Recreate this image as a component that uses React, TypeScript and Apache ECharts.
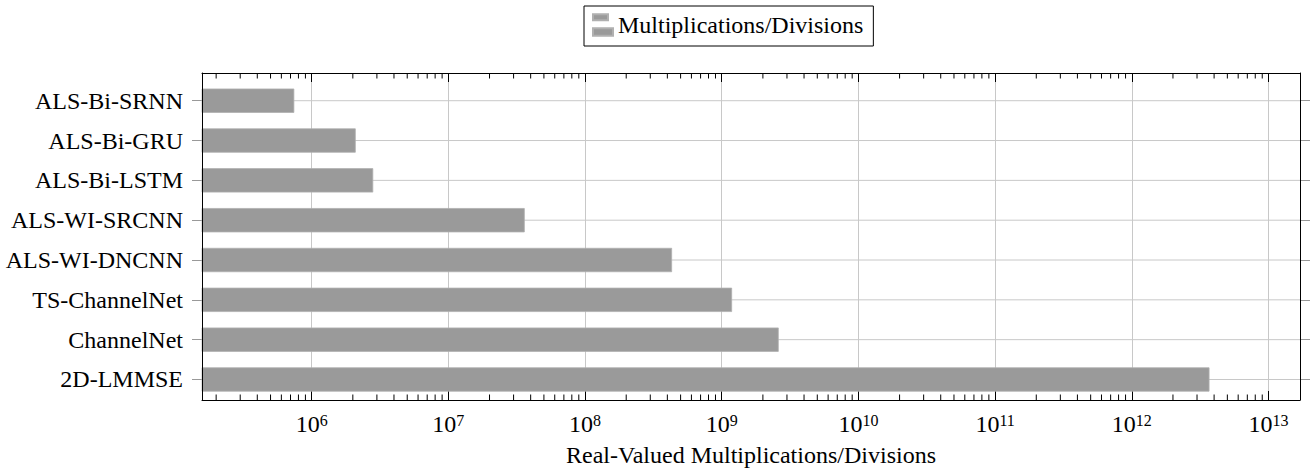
import React, { useEffect, useRef } from 'react';
import * as echarts from 'echarts';

const categories = [
  'ALS-Bi-SRNN',
  'ALS-Bi-GRU',
  'ALS-Bi-LSTM',
  'ALS-WI-SRCNN',
  'ALS-WI-DNCNN',
  'TS-ChannelNet',
  'ChannelNet',
  '2D-LMMSE',
];
const values = [7.46e5, 2.1e6, 2.82e6, 3.62e7, 4.33e8, 1.19e9, 2.61e9, 3.7e12];
const seriesName = 'Multiplications/Divisions';
const axisTitle = 'Real-Valued Multiplications/Divisions';
const axisMin = 1.576e5;
const axisMax = 1.7e13;
const minorMultipliers = [2, 3, 4, 5, 6, 7, 8, 9];
const decades = [5, 6, 7, 8, 9, 10, 11, 12, 13];

const minorTickValues: number[] = [];
decades.forEach((k) =>
  minorMultipliers.forEach((m) => {
    const v = m * Math.pow(10, k);
    if (v > axisMin && v < axisMax) minorTickValues.push(v);
  })
);

const FONT = 'Liberation Serif';
const FS = 24;

export default function App() {
  const ref = useRef<HTMLDivElement>(null);
  useEffect(() => {
    if (!ref.current) return;
    const chart = echarts.init(ref.current, undefined, { renderer: 'svg' });
    const frameAxisLine = { show: true, onZero: false, lineStyle: { color: '#000', width: 1 } };
    const option: any = {
      animation: false,
      textStyle: { fontFamily: FONT },
      legend: {
        left: 584,
        top: 6,
        padding: [7, 10, 9, 8],
        borderColor: '#000',
        borderWidth: 1,
        borderRadius: 0,
        itemWidth: 20,
        itemHeight: 21.5,
        icon: 'path://M0,0h15v6h-15z M0,14h20v7.5h-20z',
        textStyle: { fontSize: FS, fontFamily: FONT, color: '#000' },
        data: [{ name: seriesName, itemStyle: { color: '#9a9a9a' } }],
      },
      grid: [
        { left: 202, right: 11, top: 73, height: 333.5 },
        { left: 202, right: 11, top: 80.8, height: 318.6 },
      ],
      xAxis: [
        {
          gridIndex: 0,
          type: 'log',
          logBase: 10,
          min: axisMin,
          max: axisMax,
          splitNumber: 8,
          position: 'bottom',
          axisLine: frameAxisLine,
          axisTick: { show: true, inside: true, length: 9, lineStyle: { color: '#000' } },
          axisLabel: {
            showMinLabel: false,
            showMaxLabel: false,
            margin: 12,
            formatter: (v: number) => {
              const n = Math.round(Math.log10(v));
              return `{b|10}{s|${n}}`;
            },
            rich: {
              b: { fontSize: FS, fontFamily: FONT, color: '#000' },
              s: { fontSize: 16, fontFamily: FONT, color: '#000', verticalAlign: 'top' },
            },
          },
          splitLine: { show: true, lineStyle: { color: '#c8c8c8', width: 1 } },
          name: axisTitle,
          nameLocation: 'middle',
          nameGap: 43,
          nameTextStyle: { fontSize: FS, fontFamily: FONT, color: '#000' },
        },
        {
          gridIndex: 0,
          type: 'log',
          logBase: 10,
          min: axisMin,
          max: axisMax,
          splitNumber: 8,
          position: 'top',
          axisLine: frameAxisLine,
          axisTick: { show: true, inside: true, length: 9, lineStyle: { color: '#000' } },
          axisLabel: { show: false },
          splitLine: { show: false },
        },
        {
          gridIndex: 1,
          type: 'log',
          logBase: 10,
          min: axisMin,
          max: axisMax,
          show: false,
        },
      ],
      yAxis: [
        {
          gridIndex: 0,
          type: 'value',
          min: 0,
          max: 1,
          position: 'left',
          z: 5,
          axisLine: frameAxisLine,
          axisTick: { show: false },
          axisLabel: { show: false },
          splitLine: { show: false },
        },
        {
          gridIndex: 0,
          type: 'value',
          min: 0,
          max: 1,
          position: 'right',
          z: 5,
          axisLine: frameAxisLine,
          axisTick: { show: false },
          axisLabel: { show: false },
          splitLine: { show: false },
        },
        {
          gridIndex: 1,
          type: 'category',
          data: categories,
          inverse: true,
          boundaryGap: true,
          position: 'left',
          axisLine: { show: false, onZero: false },
          axisTick: { show: true, alignWithLabel: true, inside: false, length: 10, lineStyle: { color: '#999' } },
          axisLabel: { margin: 19, fontSize: FS, fontFamily: FONT, color: '#000' },
          splitLine: { show: false },
        },
        {
          gridIndex: 1,
          type: 'category',
          data: categories,
          inverse: true,
          boundaryGap: true,
          position: 'right',
          axisLine: { show: false, onZero: false },
          axisTick: { show: true, alignWithLabel: true, inside: false, length: 10, lineStyle: { color: '#999' } },
          axisLabel: { show: false },
          splitLine: { show: false },
        },
      ],
      series: [
        {
          type: 'custom',
          name: 'minorTicks',
          xAxisIndex: 0,
          yAxisIndex: 0,
          silent: true,
          z: 3,
          clip: false,
          encode: { x: 0, y: 1 },
          data: minorTickValues.map((v) => [v, 0]),
          renderItem: (params: any, api: any) => {
            const x = api.coord([api.value(0), 0])[0];
            const cs = params.coordSys;
            const top = cs.y;
            const bottom = cs.y + cs.height;
            return {
              type: 'group',
              children: [
                { type: 'line', shape: { x1: x, y1: bottom, x2: x, y2: bottom - 5.5 }, style: { stroke: '#000', lineWidth: 1 } },
                { type: 'line', shape: { x1: x, y1: top, x2: x, y2: top + 5.5 }, style: { stroke: '#000', lineWidth: 1 } },
              ],
            };
          },
        },
        {
          type: 'custom',
          name: 'hGrid',
          xAxisIndex: 2,
          yAxisIndex: 2,
          silent: true,
          z: 1,
          clip: false,
          encode: { x: 0, y: 1 },
          data: categories.map((c) => [axisMin, c]),
          renderItem: (params: any, api: any) => {
            const y = api.coord([api.value(0), api.value(1)])[1];
            const cs = params.coordSys;
            return {
              type: 'line',
              shape: { x1: cs.x, y1: y, x2: cs.x + cs.width, y2: y },
              style: { stroke: '#c8c8c8', lineWidth: 1 },
            };
          },
        },
        {
          type: 'bar',
          name: seriesName,
          xAxisIndex: 2,
          yAxisIndex: 2,
          z: 2,
          barWidth: 24.3,
          data: values,
          itemStyle: { color: '#9a9a9a', borderColor: '#b0b0b0', borderWidth: 0.8 },
        },
      ],
    };
    chart.setOption(option);
    return () => chart.dispose();
  }, []);
  return (
    <div
      ref={ref}
      style={{ position: 'fixed', left: 0, top: 0, width: 1311, height: 472, background: '#fff' }}
    />
  );
}
